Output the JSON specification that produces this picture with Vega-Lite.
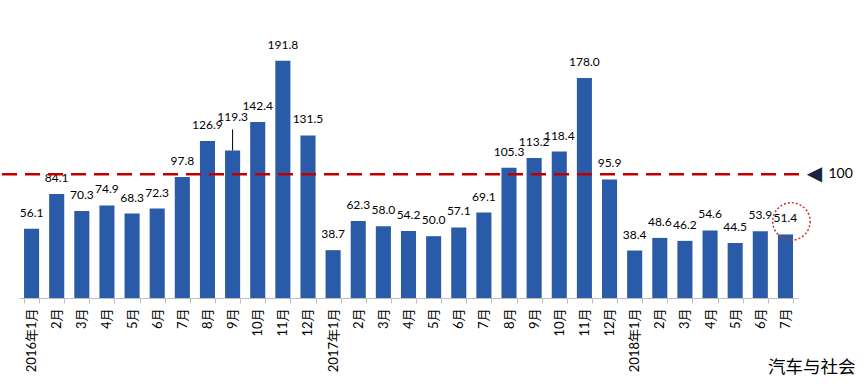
{
  "$schema": "https://vega.github.io/schema/vega-lite/v6.json",
  "width": 779,
  "height": 298,
  "autosize": {"type": "none"},
  "padding": {"left": 19, "top": 0, "right": 68, "bottom": 86},
  "background": "white",
  "config": {"view": {"stroke": null}, "font": "Lato, Noto Sans CJK SC"},
  "data": {
    "values": [
      {"month": "2016年1月", "value": 56.1},
      {"month": "2016年2月", "value": 84.1},
      {"month": "2016年3月", "value": 70.3},
      {"month": "2016年4月", "value": 74.9},
      {"month": "2016年5月", "value": 68.3},
      {"month": "2016年6月", "value": 72.3},
      {"month": "2016年7月", "value": 97.8},
      {"month": "2016年8月", "value": 126.9},
      {"month": "2016年9月", "value": 119.3},
      {"month": "2016年10月", "value": 142.4},
      {"month": "2016年11月", "value": 191.8},
      {"month": "2016年12月", "value": 131.5},
      {"month": "2017年1月", "value": 38.7},
      {"month": "2017年2月", "value": 62.3},
      {"month": "2017年3月", "value": 58.0},
      {"month": "2017年4月", "value": 54.2},
      {"month": "2017年5月", "value": 50.0},
      {"month": "2017年6月", "value": 57.1},
      {"month": "2017年7月", "value": 69.1},
      {"month": "2017年8月", "value": 105.3},
      {"month": "2017年9月", "value": 113.2},
      {"month": "2017年10月", "value": 118.4},
      {"month": "2017年11月", "value": 178.0},
      {"month": "2017年12月", "value": 95.9},
      {"month": "2018年1月", "value": 38.4},
      {"month": "2018年2月", "value": 48.6},
      {"month": "2018年3月", "value": 46.2},
      {"month": "2018年4月", "value": 54.6},
      {"month": "2018年5月", "value": 44.5},
      {"month": "2018年6月", "value": 53.9},
      {"month": "2018年7月", "value": 51.4}
    ]
  },
  "layer": [
    {
      "mark": {"type": "bar", "color": "#2A5BA8"},
      "encoding": {
        "x": {
          "field": "month",
          "type": "nominal",
          "sort": null,
          "scale": {"paddingInner": 0.4, "paddingOuter": 0.2},
          "axis": {
            "labelAngle": -90,
            "labelFontSize": 13,
            "labelColor": "#000",
            "labelPadding": 5,
            "labelOverlap": false,
            "labelExpr": "indexof(datum.label, '年1月') >= 0 ? datum.label : substring(datum.label, 5)",
            "domainColor": "#BFBFBF",
            "tickColor": "#BFBFBF",
            "tickSize": 5,
            "tickBand": "extent",
            "title": "汽车与社会",
            "titleX": 836,
            "titleY": 69,
            "titleAlign": "right",
            "titleBaseline": "middle",
            "titleAngle": 0,
            "titleFontSize": 17.5,
            "titleFontWeight": "normal",
            "titleFont": "Noto Sans CJK SC",
            "titleColor": "#000"
          }
        },
        "y": {
          "field": "value",
          "type": "quantitative",
          "scale": {"domain": [0, 241], "nice": false, "zero": true},
          "axis": null
        }
      }
    },
    {
      "transform": [{"filter": "datum.month != '2016年9月'"}],
      "mark": {"type": "text", "dy": -16, "baseline": "middle", "fontSize": 12, "color": "#000"},
      "encoding": {
        "x": {"field": "month", "type": "nominal", "sort": null},
        "y": {"field": "value", "type": "quantitative"},
        "text": {"field": "value", "type": "quantitative", "format": ".1f"}
      }
    },
    {
      "transform": [{"filter": "datum.month == '2016年9月'"}],
      "mark": {"type": "text", "dy": -33, "baseline": "middle", "fontSize": 12, "color": "#000"},
      "encoding": {
        "x": {"field": "month", "type": "nominal", "sort": null},
        "y": {"field": "value", "type": "quantitative"},
        "text": {"field": "value", "type": "quantitative", "format": ".1f"}
      }
    },
    {
      "transform": [{"filter": "datum.month == '2016年9月'"}],
      "mark": {"type": "rule", "color": "#000", "strokeWidth": 1, "y2Offset": -21},
      "encoding": {
        "x": {"field": "month", "type": "nominal", "sort": null},
        "y": {"field": "value", "type": "quantitative"},
        "y2": {"field": "value"}
      }
    },
    {
      "transform": [{"filter": "datum.month == '2018年7月'"}],
      "mark": {"type": "rule", "color": "#C00000", "strokeWidth": 2.5, "strokeDash": [15, 8], "xOffset": -17, "x2Offset": 9},
      "encoding": {
        "x": {"value": 0},
        "x2": {"value": "width"},
        "y": {"datum": 100, "type": "quantitative"}
      }
    },
    {
      "transform": [{"filter": "datum.month == '2018年7月'"}],
      "mark": {"type": "point", "shape": "circle", "size": 1400, "filled": false, "stroke": "#C0392B", "strokeWidth": 1.5, "strokeDash": [2, 2], "xOffset": 6, "yOffset": -13, "opacity": 1},
      "encoding": {
        "x": {"field": "month", "type": "nominal", "sort": null},
        "y": {"field": "value", "type": "quantitative"}
      }
    },
    {
      "transform": [{"filter": "datum.month == '2018年7月'"}],
      "mark": {"type": "text", "text": "◀", "font": "DejaVu Sans", "fontSize": 20, "color": "#1B2440", "align": "center", "baseline": "middle", "xOffset": 29},
      "encoding": {
        "x": {"field": "month", "type": "nominal", "sort": null},
        "y": {"datum": 100, "type": "quantitative"}
      }
    },
    {
      "transform": [{"filter": "datum.month == '2018年7月'"}],
      "mark": {"type": "text", "text": "100", "fontSize": 14, "color": "#000", "align": "left", "baseline": "middle", "xOffset": 43},
      "encoding": {
        "x": {"field": "month", "type": "nominal", "sort": null},
        "y": {"datum": 100, "type": "quantitative"}
      }
    }
  ]
}
